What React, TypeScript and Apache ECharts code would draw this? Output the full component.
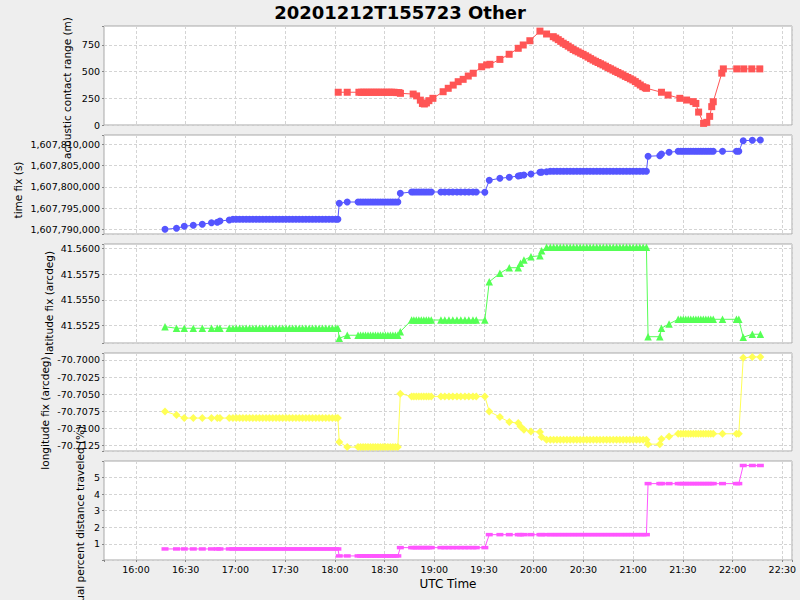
import React, { useEffect, useRef } from "react";
import * as echarts from "echarts";

const TITLE = "20201212T155723 Other";
const X_NAME = "UTC Time";
const Y_NAMES = [
  "acoustic contact range (m)",
  "time fix (s)",
  "latitude fix (arcdeg)",
  "longitude fix (arcdeg)",
  "actual percent distance traveled (%)",
];

// acoustic contacts (UTC clock time) and range in metres
const contactTimes = [
  "18:02:02","18:07:28","18:14:30","18:16:00","18:17:30","18:19:00","18:20:30","18:22:00","18:23:30","18:25:00",
  "18:26:30","18:28:00","18:29:40","18:31:10","18:32:40","18:34:10","18:35:40","18:37:10","18:38:40","18:39:35",
  "18:47:15","18:49:20","18:51:35","18:52:50","18:54:00","18:55:15","18:56:45","18:59:10",
  "19:05:20","19:08:25","19:11:25","19:14:25","19:17:25","19:20:30","19:23:30","19:28:35","19:31:35","19:33:35",
  "19:39:35","19:45:10","19:50:40","19:53:40","19:57:40","20:03:45","20:07:45",
  "20:11:48","20:13:18","20:14:48","20:16:18","20:17:48","20:19:18","20:20:48","20:22:18","20:23:48","20:25:18",
  "20:26:48","20:28:18","20:29:48","20:31:18","20:32:48","20:34:18","20:35:48","20:37:18","20:38:48","20:40:18",
  "20:41:48","20:43:18","20:44:48","20:46:18","20:47:48","20:49:18","20:50:48","20:52:18","20:53:48","20:55:18",
  "20:56:48","20:58:18","20:59:48","21:01:18","21:02:48","21:04:18","21:05:48","21:07:18","21:08:06",
  "21:17:05","21:21:05","21:28:10","21:32:15","21:36:15","21:37:50","21:39:30","21:42:30","21:44:25","21:46:10",
  "21:47:25","21:48:20","21:53:30","21:54:25","22:02:30","22:06:45","22:11:35","22:16:25",
];
const contactRange = [
  307,307,307,307,307,307,307,307,307,307,
  307,307,307,307,307,307,307,304,304,297,
  290,273,233,202,197,207,228,250,
  312,344,374,406,428,459,485,546,563,569,
  615,663,719,750,790,880,853,
  828,815,800,784,767,754,739,724,708,696,
  685,673,662,649,636,622,609,597,586,574,
  563,551,538,527,515,503,492,480,469,456,
  445,433,422,407,391,375,359,349,344,
  307,281,250,234,219,202,121,15,25,81,
  172,218,486,526,526,526,526,526,
];

// position fixes (UTC clock time)
const fixTimes = [
  "16:17:30","16:24:26","16:29:08","16:34:34","16:40:00","16:45:33","16:49:03","16:50:40","16:56:17",
  "16:58:30","17:00:30","17:02:30","17:04:30","17:06:30","17:08:30","17:10:30","17:12:30","17:14:30","17:16:30",
  "17:18:30","17:20:30","17:22:30","17:24:30","17:26:30","17:28:30","17:30:30","17:32:30","17:34:30","17:36:30",
  "17:38:30","17:40:30","17:42:30","17:44:30","17:46:30","17:48:30","17:50:30","17:52:30","17:54:30","17:56:30",
  "17:58:30","18:00:30","18:01:50",
  "18:02:38","18:07:28","18:14:00","18:15:30","18:17:00","18:18:30","18:20:00","18:21:30","18:23:00","18:24:30",
  "18:26:00","18:27:30","18:29:00","18:30:30","18:32:00","18:33:30","18:35:00","18:36:30","18:38:00","18:39:30",
  "18:46:20","18:47:40","18:49:10","18:50:40","18:52:10","18:53:40","18:55:10","18:56:40","18:58:10","19:04:00",
  "19:06:20","19:08:50","19:11:10","19:13:40","19:16:00","19:18:30","19:20:50","19:23:20","19:25:20","19:30:30",
  "19:33:10","19:39:35","19:45:15","19:50:40","19:52:00","19:54:05","19:58:20","20:03:45","20:04:45","20:07:45",
  "20:10:00","20:12:00","20:14:00","20:16:00","20:18:00","20:20:00","20:22:00","20:24:00","20:26:00","20:28:00",
  "20:30:00","20:32:00","20:34:00","20:36:00","20:38:00","20:40:00","20:42:00","20:44:00","20:46:00","20:48:00",
  "20:50:00","20:52:00","20:54:00","20:56:00","20:58:00","21:00:00","21:02:00","21:04:00","21:06:00","21:08:00",
  "21:09:00","21:16:05","21:17:05","21:21:40","21:27:10","21:28:45","21:30:15","21:31:45","21:33:15","21:34:45",
  "21:36:20","21:37:50","21:39:20","21:40:50","21:42:20","21:43:50","21:45:20","21:46:50","21:48:20","21:53:55",
  "22:02:20","22:03:45","22:06:25","22:11:55","22:16:45",
];
const timeFix = [
  1607790000,1607790235,1607790700,1607790940,1607791180,1607791550,1607791650,1607791950,1607792190,
  1607792350,1607792350,1607792350,1607792350,1607792350,1607792350,1607792350,1607792350,1607792350,1607792350,
  1607792350,1607792350,1607792350,1607792350,1607792350,1607792350,1607792350,1607792350,1607792350,1607792350,
  1607792350,1607792350,1607792350,1607792350,1607792350,1607792350,1607792350,1607792350,1607792350,1607792350,
  1607792350,1607792350,1607792350,
  1607796120,1607796420,1607796420,1607796420,1607796420,1607796420,1607796420,1607796420,1607796420,1607796420,
  1607796420,1607796420,1607796420,1607796420,1607796420,1607796420,1607796420,1607796420,1607796420,1607798470,
  1607798780,1607798780,1607798780,1607798780,1607798780,1607798780,1607798780,1607798780,1607798780,1607798780,
  1607798780,1607798780,1607798780,1607798780,1607798780,1607798780,1607798780,1607798780,1607798780,1607798720,
  1607801530,1607802000,1607802240,1607802540,1607802650,1607802780,1607803010,1607803410,1607803450,1607803550,
  1607803650,1607803650,1607803650,1607803650,1607803650,1607803650,1607803650,1607803650,1607803650,1607803650,
  1607803650,1607803650,1607803650,1607803650,1607803650,1607803650,1607803650,1607803650,1607803650,1607803650,
  1607803650,1607803650,1607803650,1607803650,1607803650,1607803650,1607803650,1607803650,1607803650,1607803650,
  1607807180,1607807320,1607807720,1607808120,1607808350,1607808350,1607808350,1607808350,1607808350,1607808350,
  1607808350,1607808350,1607808350,1607808350,1607808350,1607808350,1607808350,1607808350,1607808350,1607808350,
  1607808350,1607808350,1607810850,1607810940,1607811010,
];
const latitudeFix = [
  41.5524,41.55225,41.55225,41.55225,41.55225,41.55225,41.55225,41.55225,41.55225,
  41.55225,41.55225,41.55225,41.55225,41.55225,41.55225,41.55225,41.55225,41.55225,41.55225,
  41.55225,41.55225,41.55225,41.55225,41.55225,41.55225,41.55225,41.55225,41.55225,41.55225,
  41.55225,41.55225,41.55225,41.55225,41.55225,41.55225,41.55225,41.55225,41.55225,41.55225,
  41.55225,41.55225,41.55225,
  41.55128,41.55157,41.55157,41.55157,41.55157,41.55157,41.55157,41.55157,41.55157,41.55157,
  41.55157,41.55157,41.55157,41.55157,41.55157,41.55157,41.55157,41.55157,41.55157,41.55192,
  41.55305,41.55305,41.55305,41.55305,41.55305,41.55305,41.55305,41.55305,41.55305,41.55305,
  41.55305,41.55305,41.55305,41.55305,41.55305,41.55305,41.55305,41.55305,41.55305,41.55305,
  41.55676,41.55758,41.55812,41.55812,41.55855,41.55887,41.55919,41.55928,41.55977,41.5601,
  41.5601,41.5601,41.5601,41.5601,41.5601,41.5601,41.5601,41.5601,41.5601,41.5601,
  41.5601,41.5601,41.5601,41.5601,41.5601,41.5601,41.5601,41.5601,41.5601,41.5601,
  41.5601,41.5601,41.5601,41.5601,41.5601,41.5601,41.5601,41.5601,41.5601,41.5601,
  41.55143,41.55143,41.55225,41.55267,41.55312,41.55312,41.55312,41.55312,41.55312,41.55312,
  41.55312,41.55312,41.55312,41.55312,41.55312,41.55312,41.55312,41.55312,41.55312,41.55312,
  41.55312,41.55312,41.55138,41.55167,41.55167,
];
const longitudeFix = [
  -70.7075,-70.70803,-70.70847,-70.70847,-70.70847,-70.70847,-70.70847,-70.70847,-70.70847,
  -70.70847,-70.70847,-70.70847,-70.70847,-70.70847,-70.70847,-70.70847,-70.70847,-70.70847,-70.70847,
  -70.70847,-70.70847,-70.70847,-70.70847,-70.70847,-70.70847,-70.70847,-70.70847,-70.70847,-70.70847,
  -70.70847,-70.70847,-70.70847,-70.70847,-70.70847,-70.70847,-70.70847,-70.70847,-70.70847,-70.70847,
  -70.70847,-70.70847,-70.70847,
  -70.71197,-70.7127,-70.7127,-70.7127,-70.7127,-70.7127,-70.7127,-70.7127,-70.7127,-70.7127,
  -70.7127,-70.7127,-70.7127,-70.7127,-70.7127,-70.7127,-70.7127,-70.7127,-70.7127,-70.70491,
  -70.70531,-70.70531,-70.70531,-70.70531,-70.70531,-70.70531,-70.70531,-70.70531,-70.70531,-70.70531,
  -70.70531,-70.70531,-70.70531,-70.70531,-70.70531,-70.70531,-70.70531,-70.70531,-70.70531,-70.70531,
  -70.7075,-70.70832,-70.70905,-70.7092,-70.70969,-70.71018,-70.71042,-70.71051,-70.71124,-70.71164,
  -70.71164,-70.71164,-70.71164,-70.71164,-70.71164,-70.71164,-70.71164,-70.71164,-70.71164,-70.71164,
  -70.71164,-70.71164,-70.71164,-70.71164,-70.71164,-70.71164,-70.71164,-70.71164,-70.71164,-70.71164,
  -70.71164,-70.71164,-70.71164,-70.71164,-70.71164,-70.71164,-70.71164,-70.71164,-70.71164,-70.71164,
  -70.71227,-70.71227,-70.71153,-70.71115,-70.71076,-70.71076,-70.71076,-70.71076,-70.71076,-70.71076,
  -70.71076,-70.71076,-70.71076,-70.71076,-70.71076,-70.71076,-70.71076,-70.71076,-70.71076,-70.71076,
  -70.71076,-70.71076,-70.69969,-70.69955,-70.69955,
];
const percentTraveled = [
  0.7,0.7,0.7,0.7,0.7,0.7,0.7,0.7,0.7,
  0.7,0.7,0.7,0.7,0.7,0.7,0.7,0.7,0.7,0.7,
  0.7,0.7,0.7,0.7,0.7,0.7,0.7,0.7,0.7,0.7,
  0.7,0.7,0.7,0.7,0.7,0.7,0.7,0.7,0.7,0.7,
  0.7,0.7,0.7,
  0.28,0.28,0.28,0.28,0.28,0.28,0.28,0.28,0.28,0.28,
  0.28,0.28,0.28,0.28,0.28,0.28,0.28,0.28,0.28,0.78,
  0.78,0.78,0.78,0.78,0.78,0.78,0.78,0.78,0.78,0.78,
  0.78,0.78,0.78,0.78,0.78,0.78,0.78,0.78,0.78,0.78,
  1.56,1.56,1.56,1.56,1.56,1.56,1.56,1.56,1.56,1.56,
  1.56,1.56,1.56,1.56,1.56,1.56,1.56,1.56,1.56,1.56,
  1.56,1.56,1.56,1.56,1.56,1.56,1.56,1.56,1.56,1.56,
  1.56,1.56,1.56,1.56,1.56,1.56,1.56,1.56,1.56,1.56,
  4.63,4.63,4.63,4.63,4.63,4.63,4.63,4.63,4.63,4.63,
  4.63,4.63,4.63,4.63,4.63,4.63,4.63,4.63,4.63,4.63,
  4.63,4.63,5.72,5.72,5.72,
];

// axis extents (minutes after midnight UTC on x)
const X_MIN = 940.69;
const X_MAX = 1355.85;
const Y_MIN = [0, 1607788894, 41.55082, -70.71327, 0.035];
const Y_MAX = [928, 1607812188, 41.56042, -70.69898, 5.99];
const Y_STEP = [250, 5000, 0.0025, 0.0025, 1];

const FONT = "DejaVu Sans";
const COLORS = ["#ff5555", "#5555ff", "#55ff55", "#ffff55", "#ff55ff"];
const PANELS = [
  { top: 26, height: 99 },
  { top: 135, height: 99 },
  { top: 244, height: 99 },
  { top: 353, height: 98 },
  { top: 461, height: 99 },
];
const NAME_POS = [
  [67, 88],
  [18, 190],
  [49, 303],
  [45, 413],
  [80, 522],
];

const toMinutes = (s: string) => {
  const [h, m, sec] = s.split(":").map(Number);
  return h * 60 + m + (sec || 0) / 60;
};
const pairs = (times: string[], vals: number[]) => times.map((t, i) => [toMinutes(t), vals[i]]);
const pad = (n: number) => (n < 10 ? "0" + n : "" + n);
const isStep = (v: number, step: number) => Math.abs(v / step - Math.round(v / step)) < 1e-6;

const yFormat = (i: number) => (v: number) => {
  if (!isStep(v, Y_STEP[i])) return "";
  if (i === 1) return Math.round(v).toLocaleString("en-US");
  if (i === 2 || i === 3) return v.toFixed(4);
  return String(Math.round(v));
};

export default function App() {
  const ref = useRef<HTMLDivElement>(null);
  useEffect(() => {
    if (!ref.current) return;
    const chart = echarts.init(ref.current, null, { renderer: "svg" });
    const seriesData = [
      pairs(contactTimes, contactRange),
      pairs(fixTimes, timeFix),
      pairs(fixTimes, latitudeFix),
      pairs(fixTimes, longitudeFix),
      pairs(fixTimes, percentTraveled),
    ];
    const symbols: any[] = ["rect", "circle", "triangle", "diamond", "rect"];
    const sizes: any[] = [7, 7, 7.5, 8, [7, 3.5]];
    const option: any = {
      animation: false,
      backgroundColor: "#eeeeee",
      title: {
        text: TITLE,
        left: "center",
        top: -2,
        textStyle: { fontFamily: FONT, fontWeight: "bold", fontSize: 18, color: "#000" },
      },
      grid: PANELS.map((p) => ({
        left: 104,
        right: 8,
        top: p.top,
        height: p.height,
        show: true,
        backgroundColor: "#ffffff",
        borderColor: "#a8a8a8",
        borderWidth: 1,
        outerBoundsMode: "none",
      })),
      xAxis: PANELS.map((_, i) => ({
        type: "value",
        gridIndex: i,
        min: X_MIN,
        max: X_MAX,
        minInterval: 30,
        maxInterval: 30,
        axisLine: { show: false },
        axisTick: { show: i === 4, length: 2, lineStyle: { color: "#888" } },
        axisLabel: {
          show: i === 4,
          margin: 4,
          fontSize: 9.5,
          fontFamily: FONT,
          color: "#000",
          formatter: (v: number) => {
            if (!isStep(v, 30)) return "";
            const m = Math.round(v);
            return pad(Math.floor(m / 60)) + ":" + pad(m % 60);
          },
        },
        splitLine: { show: true, lineStyle: { color: "#d4d4d4", width: 1, type: [3, 2] } },
        name: i === 4 ? X_NAME : "",
        nameLocation: "middle",
        nameGap: 18,
        nameTextStyle: { fontFamily: FONT, fontSize: 12, color: "#000" },
      })),
      yAxis: PANELS.map((_, i) => ({
        type: "value",
        gridIndex: i,
        min: Y_MIN[i],
        max: Y_MAX[i],
        minInterval: Y_STEP[i],
        maxInterval: Y_STEP[i],
        scale: true,
        axisLine: { show: false },
        axisTick: { show: true, length: 2, lineStyle: { color: "#888" } },
        axisLabel: {
          margin: 4,
          fontSize: 9.5,
          fontFamily: FONT,
          color: "#000",
          formatter: yFormat(i),
        },
        splitLine: { show: true, lineStyle: { color: "#d4d4d4", width: 1, type: [3, 2] } },
      })),
      graphic: Y_NAMES.map((t, i) => ({
        type: "text",
        x: NAME_POS[i][0],
        y: NAME_POS[i][1],
        rotation: Math.PI / 2,
        silent: true,
        z: 100,
        style: {
          text: t,
          align: "center",
          verticalAlign: "middle",
          textAlign: "center",
          textVerticalAlign: "middle",
          fontSize: 10.5,
          fontFamily: FONT,
          fill: "#000",
        },
      })),
      series: seriesData.map((d, i) => ({
        type: "line",
        xAxisIndex: i,
        yAxisIndex: i,
        data: d,
        symbol: symbols[i],
        symbolSize: sizes[i],
        showAllSymbol: true,
        lineStyle: { width: 1, color: COLORS[i] },
        itemStyle: { color: COLORS[i] },
        emphasis: { disabled: true },
        silent: true,
      })),
    };
    chart.setOption(option);
    return () => chart.dispose();
  }, []);
  return (
    <div
      ref={ref}
      style={{ position: "fixed", left: 0, top: 0, width: 800, height: 600 }}
    />
  );
}
